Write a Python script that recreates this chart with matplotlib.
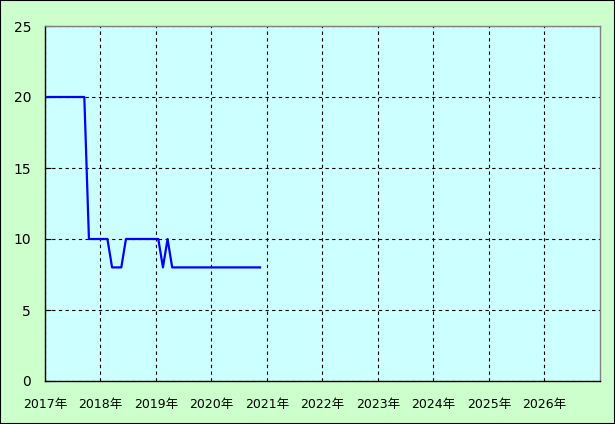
import numpy as np
import matplotlib.pyplot as plt
from matplotlib.patches import Rectangle

plt.rcParams['font.family'] = ['DejaVu Sans', 'Noto Sans CJK JP']

# monthly values, Jan 2017 .. Nov 2020
start_year = 2017
values = [20, 20, 20, 20, 20, 20, 20, 20, 20,   # 2017-01 .. 2017-09
          10, 10, 10, 10, 10,                   # 2017-10 .. 2018-02
          8, 8, 8,                              # 2018-03 .. 2018-05
          10, 10, 10, 10, 10, 10, 10, 10,       # 2018-06 .. 2019-01
          8,                                    # 2019-02
          10,                                   # 2019-03
          8, 8, 8, 8, 8, 8, 8, 8, 8, 8,         # 2019-04 .. 2020-01
          8, 8, 8, 8, 8, 8, 8, 8, 8, 8]         # 2020-02 .. 2020-11
years = list(range(2017, 2027))
year_labels = [f"{y}年" for y in years]
yticks = [0, 5, 10, 15, 20, 25]

x = start_year + (np.arange(len(values)) + 0.5) / 12.0

fig = plt.figure(figsize=(6.15, 4.24), dpi=100)
fig.patch.set_facecolor('#ccffcc')
fig.patches.append(Rectangle((0, 0), 1, 1, transform=fig.transFigure,
                             fill=False, edgecolor='black', linewidth=1.5))

ax = fig.add_axes([45/615, 43/424, 555/615, 355/424])
ax.set_facecolor('#ccffff')
ax.plot(x, values, color='#0000ff', linewidth=1.6)

ax.set_xlim(2017, 2027)
ax.set_ylim(0, 25)
ax.set_xticks(years)
ax.set_xticklabels(year_labels, fontsize=9)
ax.set_yticks(yticks)
ax.set_yticklabels([str(v) for v in yticks], fontsize=10)
ax.tick_params(axis='x', length=0, pad=12)
ax.tick_params(axis='y', length=4, direction='in', pad=10)
ax.grid(True, color='black', linestyle=(0, (3, 3)), linewidth=0.8)

ax.spines['left'].set_color('black')
ax.spines['bottom'].set_color('black')
ax.spines['top'].set_color('#808080')
ax.spines['right'].set_color('#808080')
for s in ax.spines.values():
    s.set_linewidth(1)

fig.savefig('out.png', dpi=100, facecolor=fig.get_facecolor())
